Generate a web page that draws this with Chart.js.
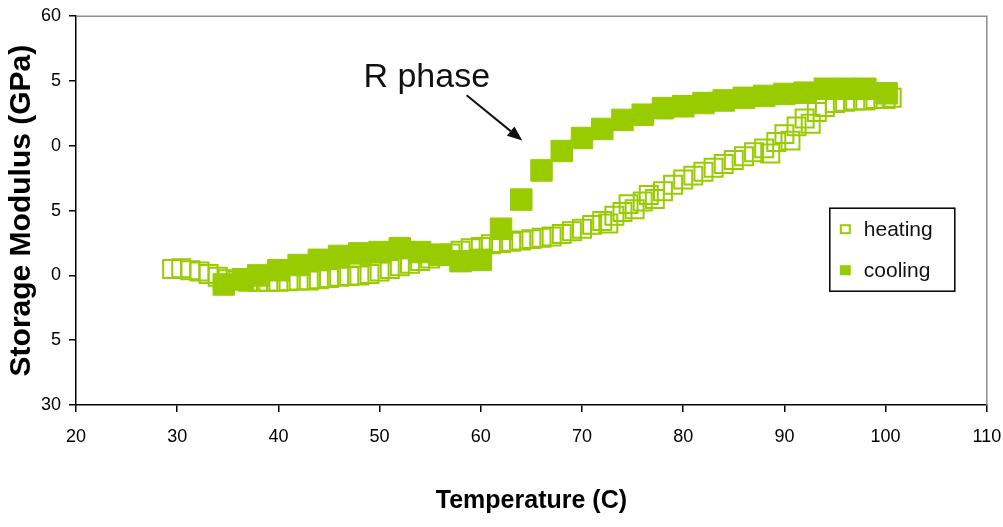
<!DOCTYPE html>
<html lang="en">
<head>
<meta charset="UTF-8">
<title>Storage Modulus vs Temperature</title>
<script src="https://cdn.jsdelivr.net/npm/chart.js"></script>
<style>
  body { margin: 0; background: #ffffff; }
  #wrap { width: 1003px; height: 527px; }
</style>
</head>
<body>
<div id="wrap"><canvas id="modulus-chart" width="1003" height="527"></canvas></div>
<script>
// heating run (open squares): temperature (C) and storage modulus (GPa)
const heatingTemp = [29.5, 30.4, 31.3, 32.2, 33.1, 34.0, 35, 36, 37, 38, 39, 40, 41, 42, 43, 44, 45, 46, 47, 48,
  49, 50, 51, 52, 53, 54, 55, 56, 57, 58, 59, 60, 61, 62, 63, 64, 65, 66, 67, 68, 69, 70, 71, 72, 72.6, 73.2,
  74, 74.6, 75.2, 76, 76.6, 77.2, 78, 79, 80, 81, 82, 83, 84, 85, 86, 87, 88, 88.6, 89.2, 90, 90.6, 91.2, 92,
  92.6, 93.2, 94, 95, 96, 97, 98, 99, 100, 100.6];
const heatingModulus = [40.5, 40.55, 40.4, 40.3, 40.1, 39.9, 39.7, 39.6, 39.5, 39.5, 39.5, 39.5, 39.55, 39.6, 39.6,
  39.7, 39.8, 39.9, 39.95, 40.0, 40.1, 40.3, 40.5, 40.7, 40.9, 41.1, 41.3, 41.5, 41.7, 41.9, 42.1, 42.2, 42.4,
  42.5, 42.6, 42.7, 42.8, 42.9, 43.0, 43.2, 43.4, 43.6, 43.9, 44.2, 44.0, 44.6, 44.9, 45.5, 45.1, 45.7, 46.2,
  45.9, 46.5, 47.0, 47.4, 47.7, 48.0, 48.3, 48.6, 48.9, 49.2, 49.5, 49.8, 49.4, 50.3, 50.9, 50.4, 51.5, 52.1,
  51.7, 52.6, 53.0, 53.3, 53.4, 53.5, 53.5, 53.6, 53.6, 53.7];

// cooling run (filled squares), logged from hot to cold
const coolingTemp = [100.1, 98, 96, 94, 92, 90, 88, 86, 84, 82, 80, 78, 76, 74, 72, 70, 68, 66, 64, 62, 60, 58,
  56, 54, 52, 50, 48, 46, 44, 42, 40, 38, 36.5, 34.6];
const coolingModulus = [54.05, 54.4, 54.4, 54.4, 54.1, 54.0, 53.85, 53.7, 53.5, 53.3, 53.05, 52.9, 52.4, 52.0, 51.3,
  50.6, 49.6, 48.1, 45.85, 43.6, 41.2, 41.1, 41.6, 41.8, 42.1, 41.8, 41.7, 41.5, 41.2, 40.8, 40.4, 40.0, 39.7, 39.3];

// labels printed beside the y ticks 30, 35, ... 60
const yTickValues = [30, 35, 40, 45, 50, 55, 60];
const yTickLabels = ['30', '5', '0', '5', '0', '5', '60'];

const FONT = 'Liberation Sans, Arial, Helvetica, sans-serif';
const LIME = '#99cc00';

// "R phase" callout, in data units
const callout = { text: 'R phase', textX: 48.4, textY: 54.5, fromX: 58.6, fromY: 53.9, toX: 64.1, toY: 50.4 };

const toPoints = (xs, ys) => xs.map((x, i) => ({ x: x, y: ys[i] }));

// plot frame: light grey top and right edges
const frameEdges = {
  id: 'frameEdges',
  beforeDatasetsDraw(chart) {
    const { ctx, chartArea: a } = chart;
    ctx.save();
    ctx.strokeStyle = '#8c8c8c';
    ctx.lineWidth = 1.5;
    ctx.beginPath();
    ctx.moveTo(a.left, a.top);
    ctx.lineTo(a.right, a.top);
    ctx.lineTo(a.right, a.bottom);
    ctx.stroke();
    ctx.restore();
  }
};

// boxed legend inside the plot, lower right
const boxLegend = {
  id: 'boxLegend',
  afterDatasetsDraw(chart) {
    const { ctx, chartArea: a } = chart;
    const left = a.right - 157, top = a.top + 192, w = 125, h = 83;
    ctx.save();
    ctx.fillStyle = '#ffffff';
    ctx.fillRect(left, top, w, h);
    ctx.strokeStyle = '#000000';
    ctx.lineWidth = 1.5;
    ctx.strokeRect(left, top, w, h);
    ctx.font = '21px ' + FONT;
    ctx.textBaseline = 'middle';
    chart.data.datasets.forEach((ds, i) => {
      const cy = top + 21 + i * 41;
      if (ds.pointBackgroundColor === LIME) {
        ctx.fillStyle = LIME;
        ctx.fillRect(left + 10, cy - 5, 11, 10);
      } else {
        ctx.strokeStyle = LIME;
        ctx.lineWidth = 2;
        ctx.strokeRect(left + 11, cy - 4, 9, 8);
      }
      ctx.fillStyle = '#111111';
      ctx.fillText(ds.label, left + 34, cy + 1);
    });
    ctx.restore();
  }
};

// text label with an arrow pointing at the cooling jump
const phaseCallout = {
  id: 'phaseCallout',
  afterDatasetsDraw(chart) {
    const { ctx, scales: { x, y } } = chart;
    const tx = x.getPixelForValue(callout.textX), ty = y.getPixelForValue(callout.textY);
    const x0 = x.getPixelForValue(callout.fromX), y0 = y.getPixelForValue(callout.fromY);
    const x1 = x.getPixelForValue(callout.toX), y1 = y.getPixelForValue(callout.toY);
    ctx.save();
    ctx.fillStyle = '#111111';
    ctx.font = '34px ' + FONT;
    ctx.textBaseline = 'alphabetic';
    ctx.fillText(callout.text, tx, ty);
    const ang = Math.atan2(y1 - y0, x1 - x0);
    const headLen = 15, headHalf = 6;
    const bx = x1 - headLen * Math.cos(ang), by = y1 - headLen * Math.sin(ang);
    ctx.strokeStyle = '#111111';
    ctx.lineWidth = 2;
    ctx.beginPath();
    ctx.moveTo(x0, y0);
    ctx.lineTo(bx, by);
    ctx.stroke();
    ctx.beginPath();
    ctx.moveTo(x1, y1);
    ctx.lineTo(bx - headHalf * Math.sin(ang), by + headHalf * Math.cos(ang));
    ctx.lineTo(bx + headHalf * Math.sin(ang), by - headHalf * Math.cos(ang));
    ctx.closePath();
    ctx.fill();
    ctx.restore();
  }
};

new Chart(document.getElementById('modulus-chart').getContext('2d'), {
  type: 'scatter',
  data: {
    datasets: [
      {
        label: 'heating',
        data: toPoints(heatingTemp, heatingModulus),
        pointStyle: 'rect',
        pointRadius: 12.7,
        pointHoverRadius: 12.7,
        pointBorderWidth: 2,
        pointBorderColor: LIME,
        pointBackgroundColor: 'rgba(0,0,0,0)',
        order: 2
      },
      {
        label: 'cooling',
        data: toPoints(coolingTemp, coolingModulus),
        pointStyle: 'rect',
        pointRadius: 15.2,
        pointHoverRadius: 15.2,
        pointBorderWidth: 1,
        pointBorderColor: LIME,
        pointBackgroundColor: LIME,
        order: 1
      }
    ]
  },
  options: {
    responsive: false,
    devicePixelRatio: 1,
    animation: false,
    layout: { padding: { top: 16, right: 16, left: 0, bottom: 0 } },
    plugins: {
      legend: { display: false },
      tooltip: { enabled: false }
    },
    scales: {
      x: {
        type: 'linear',
        min: 20,
        max: 110,
        ticks: { stepSize: 10, color: '#000000', padding: 14, maxRotation: 0, font: { family: FONT, size: 18 } },
        grid: { drawOnChartArea: false, drawTicks: true, tickLength: 7, color: '#000000', lineWidth: 1.5 },
        border: { color: '#000000', width: 1.5 },
        title: {
          display: true,
          text: 'Temperature (C)',
          color: '#000000',
          font: { family: FONT, size: 25, weight: 'bold' },
          padding: { top: 0, bottom: 11 }
        },
        afterFit(scale) {
          scale.height = 122;
          scale.paddingLeft = 0;
          scale.paddingRight = 0;
        }
      },
      y: {
        type: 'linear',
        min: 30,
        max: 60,
        afterBuildTicks(scale) { scale.ticks = yTickValues.map(v => ({ value: v })); },
        ticks: {
          color: '#000000',
          padding: 8,
          font: { family: FONT, size: 18 },
          callback: (value) => yTickLabels[yTickValues.indexOf(value)]
        },
        grid: { drawOnChartArea: false, drawTicks: true, tickLength: 7, color: '#000000', lineWidth: 1.5 },
        border: { color: '#000000', width: 1.5 },
        title: {
          display: true,
          text: 'Storage Modulus (GPa)',
          color: '#000000',
          font: { family: FONT, size: 30, weight: 'bold' },
          padding: { top: 4, bottom: 0 }
        },
        afterFit(scale) {
          scale.width = 76;
          scale.paddingTop = 0;
          scale.paddingBottom = 0;
        }
      }
    }
  },
  plugins: [frameEdges, boxLegend, phaseCallout]
});
</script>
</body>
</html>
